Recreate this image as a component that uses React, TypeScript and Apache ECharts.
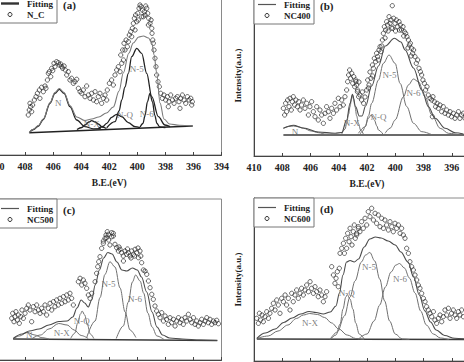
import { useEffect, useRef } from "react";
import * as echarts from "echarts";

type Pt = [number, number];
type PeakLabel = [string, number, number];

// ---------- N 1s spectra: binding energy (eV) vs intensity (a.u.) ----------

// (a) N_C
const ncPoints: Pt[] = [
  [407.77,40],[407.7,45],[407.6,48.3],[407.53,43.3],[407.46,50],[407.65,51.7],[407.34,55],[407.22,58.3],[407.12,61.7],[406.98,65],
  [406.94,56.7],[406.82,67.7],[406.7,63.3],[406.58,69],[406.51,66.7],[406.41,75],[406.34,81.7],[406.27,83.3],[406.17,78.3],[406.1,86.7],
  [406.03,84.3],[405.94,91.7],[405.87,88.3],[405.75,93.3],[405.63,92.3],[405.56,90],[405.46,91],[405.39,88.3],[405.32,86.7],[405.22,89],
  [405.13,85],[405.03,80],[404.92,83.3],[404.8,75],[404.68,76.7],[404.56,71.7],[404.44,73.3],[404.32,75.7],[404.2,66.7],[404.08,63.3],
  [403.96,61.7],[403.85,65],[403.73,58.3],[403.61,69],[403.49,60],[403.37,56.7],[403.25,61.7],[403.13,55],[403.01,63.3],[402.9,53.3],
  [402.78,58.3],[402.66,61.7],[402.54,51.7],[402.42,56.7],[402.3,60],[402.18,55],[402.14,65],[401.99,71.7],[401.83,75],[401.71,70],
  [401.59,80],[401.47,85],[401.35,88.3],[401.23,83.3],[401.11,91.7],[400.99,95],[401.18,100],[401.04,105],[400.95,111.7],[400.88,105],
  [400.8,115],[400.71,108.3],[400.64,113.3],[400.57,120],[400.47,123.3],[400.4,118.3],[400.35,126.7],[400.28,131.7],[400.21,136.7],[400.16,125],
  [400.12,140],[400.04,133.3],[399.97,141.7],[399.93,135],[399.88,146.7],[399.81,150],[399.74,148.3],[399.69,138.3],[399.64,145],[399.57,138.3],
  [399.5,143.3],[399.45,140],[399.4,149],[399.33,146.7],[399.26,141.7],[399.21,130],[399.19,136.7],[399.09,131.7],[399.02,135],[398.97,126.7],
  [398.95,121.7],[398.9,115],[398.86,111.7],[398.81,105],[398.74,96.7],[398.67,88.3],[398.62,80],[398.52,73.3],[398.43,68.3],[398.33,61.7],
  [398.22,56.7],[398.1,60],[397.98,55],[397.86,58.3],[397.79,48.3],[397.74,53.3],[397.62,60],[397.5,55],[397.38,51.7],[397.26,56.7],
  [397.15,58.3],[397.03,53.3],[396.96,46.7],[396.91,56.7],[396.79,60],[396.67,55],[396.55,51.7],[396.43,58.3],[396.31,55],[396.19,56.7],
  [396.12,50],[396.08,53.3],
];
const ncFit: Pt[] = [
  [407.7,22.3],[407.4,25.8],[407.05,29.5],[406.7,36],[406.22,52.5],[405.87,62.5],[405.56,66.5],[405.22,62.5],[404.8,49.5],[404.32,38],
  [403.73,34.5],[403.25,36],[402.75,38],[402.2,42],[401.71,48],[401.3,64],[401.0,82],[400.6,102],[400.29,112],[399.9,118],
  [399.57,119],[399.2,117],[398.97,112],[398.8,100],[398.62,82],[398.38,52],[398.1,36],[397.7,31],[397.0,29.8],[396.05,29],
];
const ncBackground: Pt[] = [[407.7,22.3],[396.05,29]];
const ncPeakN: Pt[] = [
  [407.7,22.3],[407.4,25.5],[407.05,29],[406.7,35.5],[406.22,51.7],[405.87,61.7],[405.56,65.7],[405.22,61.7],[404.8,48.3],[404.32,35],
  [403.73,28.3],[403.13,26.2],[402.6,26.3],
];
const ncPeakNX: Pt[] = [[404.3,25.5],[403.95,27.5],[403.73,30],[403.45,33],[403.25,34.3],[403.0,33],[402.78,31],[402.5,28],[402.2,26.5]];
const ncPeakNQ: Pt[] = [[402.78,26.7],[402.45,28.5],[402.18,31.7],[401.83,37.7],[401.47,40.7],[401.11,38.3],[400.64,32.3],[400.16,28.3],[399.81,27.3]];
const ncPeakN5: Pt[] = [
  [402.18,27.3],[401.59,33.3],[401.3,44],[401.11,55],[400.88,68],[400.64,81.7],[400.4,98.3],[400.04,106.7],[399.69,101.7],[399.33,81.7],
  [398.97,58.3],[398.5,38.3],[398.03,30],[397.67,28.3],
];
const ncPeakN6: Pt[] = [[399.8,28],[399.6,31.5],[399.45,39.5],[399.28,53],[399.1,61.5],[398.92,53],[398.75,39.5],[398.6,31.5],[398.4,28],[398.0,27.5]];
const ncLabels: PeakLabel[] = [["N",405.63,52],["N-X",403.25,31],["N-Q",400.87,40],["N-5",400.04,86],["N-6",399.33,41.5]];

// (b) NC400
const nc400Points: Pt[] = [
  [407.92,47.7],[407.83,41],[407.76,52.7],[407.69,44.3],[407.62,56],[407.52,49.3],[407.45,57.7],[407.36,46],[407.29,54.3],[407.22,59.3],
  [407.12,51],[407.03,56],[406.93,49.3],[406.84,54.3],[406.74,46],[406.63,51],[406.51,56],[406.39,47.7],[406.27,52.7],[406.15,41],
  [406.04,49.3],[405.92,54.3],[405.8,44.3],[405.68,39.3],[405.56,49.3],[405.45,36],[405.33,46],[405.21,41],[405.09,32.7],[404.97,42.7],
  [404.86,49.3],[404.74,44.3],[404.62,37.7],[404.5,47.7],[404.38,42.7],[404.27,52.7],[404.15,46],[404.03,57.7],[403.91,49.3],[403.79,56],
  [403.68,51],[403.56,59.3],[403.44,66],[403.37,74.3],[403.3,81],[403.23,86],[403.16,77.7],[403.08,82.7],[403.01,72.7],[402.94,79.3],
  [402.87,69.3],[402.78,74.3],[402.68,64.3],[402.59,59.3],[402.8,76],[402.73,71],[402.66,66],[402.57,74],[402.5,61],[402.38,56],
  [402.33,64],[402.24,52.7],[402.14,59],[402.02,66],[401.95,76],[401.9,68],[401.86,71],[401.79,84],[401.72,77.7],[401.62,91],
  [401.6,80],[401.55,87.7],[401.48,97.7],[401.39,94.3],[401.32,102.7],[401.25,99.3],[401.2,96],[401.15,106],[401.08,109.3],[401.01,104.3],
  [400.95,110],[400.91,116],[400.84,122.7],[400.77,129.3],[400.72,118],[400.68,126],[400.61,134.3],[400.54,131],[400.5,125],[400.44,139.3],
  [400.37,132.7],[400.3,136],[400.26,128],[400.21,150.3],[400.18,127.7],[400.11,137.7],[400.02,132.7],[399.98,125],[399.92,136],[399.83,129.3],
  [399.73,134.3],[399.7,126],[399.64,131],[399.55,126],[399.45,129.3],[399.4,120],[399.36,124.3],[399.26,122.7],[399.17,119.3],[399.1,108],
  [399.07,116],[399.0,111],[398.93,112.7],[398.88,100],[398.84,107.7],[398.77,102.7],[398.7,106],[398.6,99.3],[398.51,92.7],[398.41,96],
  [398.32,87.7],[398.22,84.3],[398.13,81],[398.04,76],[397.94,72.7],[397.85,66],[397.75,69.3],[397.66,61],[397.54,57.7],[397.42,56],
  [397.37,39.3],[397.33,59.3],[397.23,54.3],[397.14,49.3],[397.04,52.7],[396.95,47.7],[396.83,51],[396.71,44.3],[396.6,49.3],[396.48,42.7],
  [396.36,46],[396.24,41],[396.12,44.3],[396.01,39.3],[395.89,42.7],[395.77,37.7],[395.65,41],[395.53,44.3],[395.42,37.7],[395.3,41],
  [395.18,42.7],[395.06,37.7],
];
const nc400Fit: Pt[] = [
  [407.92,27.7],[407.2,30.7],[406.5,28],[405.44,24],[404.26,22.7],[403.79,23.5],[403.44,36],[403.2,52.7],[403.03,61.7],[402.8,49.3],
  [402.55,40],[402.35,40],[402.1,50],[401.67,70],[401.19,90],[400.7,110],[400.06,117.7],[399.6,114],[399.3,106],[398.71,88],
  [398.12,66],[397.65,49.3],[397.18,37.7],[396.47,27.7],[395.76,23.3],[395.17,22],
];
const nc400Background: Pt[] = [[407.92,21],[395.0,21]];
const nc400PeakN: Pt[] = [[407.92,27.7],[407.55,29.5],[407.2,30],[406.85,29.2],[406.5,27.7],[405.95,25],[405.44,23.3],[404.9,21.8],[404.3,21.2]];
const nc400PeakNX: Pt[] = [
  [403.79,22],[403.55,27],[403.44,32.7],[403.3,42],[403.2,49.3],[403.1,57],[403.03,61],[402.95,57],[402.85,49.3],[402.73,40],
  [402.61,32.7],[402.45,26],[402.26,22],
];
const nc400PeakNQ: Pt[] = [[402.49,22],[402.3,25],[402.13,29.3],[401.9,37.7],[401.71,41],[401.48,36],[401.3,30],[401.19,26],[400.84,21.3]];
const nc400PeakN5: Pt[] = [
  [402.61,22.7],[402.13,29.3],[401.9,40],[401.67,52.7],[401.19,76],[400.84,92.7],[400.44,101],[400.01,92.7],[399.66,72.7],[399.18,49.3],
  [398.71,32.7],[398.12,24.3],[397.41,21.3],
];
const nc400PeakN6: Pt[] = [
  [400.72,22.7],[400.35,28],[400.01,36],[399.42,59.3],[399.07,71],[398.71,77],[398.36,74.3],[397.89,59.3],[397.41,41],[396.82,27.7],
  [396.23,22.7],[395.52,21.3],
];
const nc400Labels: PeakLabel[] = [["N",407.1,24.3],["N-X",403.08,33.3],["N-Q",401.19,38.7],["N-5",400.4,81],["N-6",398.71,62.7]];

// (c) NC500
const nc500Points: Pt[] = [
  [408.95,41.7],[408.88,46.7],[408.79,38.3],[408.72,43.3],[408.65,48.3],[408.55,40],[408.48,45],[408.41,36.7],[408.31,43.3],[408.22,50],
  [408.12,41.7],[408.0,46.7],[407.88,51.7],[407.77,55],[407.65,50],[407.53,38.3],[407.41,53.3],[407.29,48.3],[407.17,55],[407.05,50],
  [406.93,46.7],[406.82,51.7],[406.7,48.3],[406.58,55],[406.46,45],[406.34,51.7],[406.22,56.7],[406.1,50],[405.98,58.3],[405.87,53.3],
  [405.75,60],[405.63,55],[405.51,61.7],[405.39,56.7],[405.27,63.3],[405.15,58.3],[405.03,65],[404.92,60],[404.8,66.7],[404.68,61.7],
  [404.56,55],[404.2,78.3],[404.08,81.7],[403.96,75],[403.85,80],[403.73,76.7],[403.61,71.7],[403.49,65],[403.37,61.7],[403.25,66.7],
  [403.01,78.3],[402.9,86.7],[402.82,93.3],[402.75,98.3],[402.66,103.3],[402.54,111.7],[402.42,116.7],[402.42,119],[402.3,121.7],[402.23,125],
  [402.18,122.3],[402.14,128.3],[402.06,125.7],[402.04,120],[401.95,115],[401.83,123.3],[401.83,127.3],[401.71,126.7],[401.71,124],[401.59,115.7],
  [401.47,112.3],[401.35,109],[401.3,113],[401.23,110.7],[401.11,107.3],[401.0,104],[400.99,99],[400.88,109],[400.76,105.7],[400.7,111],
  [400.64,107.3],[400.52,104],[400.45,102],[400.4,109],[400.28,105.7],[400.2,104],[400.16,110.7],[400.04,107.3],[399.95,112],[399.92,102.3],
  [399.81,109],[399.75,104],[399.69,97.3],[399.57,90],[399.45,89],[399.33,85.7],[399.21,79],[399.09,72.3],[398.97,65.7],[398.86,60.7],
  [398.74,54],[398.62,49],[398.5,45.7],[398.38,42.3],[398.26,47.3],[398.14,39],[398.02,44],[397.91,40.7],[397.79,35.7],[397.67,42.3],
  [397.55,37.3],[397.43,40.7],[397.31,34],[397.19,39],[397.07,42.3],[396.96,37.3],[396.84,40.7],[396.72,35.7],[396.6,42.3],[396.48,39],
  [396.36,45.7],[396.24,40.7],[396.12,37.3],[396.0,42.3],[395.89,35.7],[395.77,39],[395.65,34],[395.53,37.3],[395.41,40.7],[395.29,35.7],
  [395.17,39],[395.05,42.3],[394.94,37.3],[394.82,40.7],[394.7,35.7],[394.58,39],[394.46,37.3],[394.34,39.7],[394.22,36.3],
];
const nc500Fit: Pt[] = [
  [408.85,21.5],[408.2,26],[407.7,29],[407.0,31],[406.3,35],[405.6,38.5],[405.0,39],[404.6,43],[404.3,52],[404.0,60],
  [403.75,57],[403.5,53],[403.25,60],[403.0,75],[402.7,90],[402.4,102],[402.1,107.5],[401.8,106],[401.45,98],[401.1,90],
  [400.75,89],[400.35,92],[400.0,90],[399.7,83],[399.33,68],[398.95,48],[398.6,33],[398.2,25],[397.7,22],[396.8,21],
  [395.5,20],[394.3,19.5],
];
const nc500Background: Pt[] = [[408.85,21],[394.3,19.5]];
const nc500PeakN: Pt[] = [[408.85,21],[408.4,24],[407.85,27.5],[407.3,25],[406.8,22.3],[406.3,21]];
const nc500PeakNX: Pt[] = [[407.5,21.5],[406.9,25],[406.3,31],[405.6,36.5],[405.0,35],[404.5,30],[404.0,24.5],[403.5,21.5]];
const nc500PeakNQ: Pt[] = [[404.75,21.5],[404.45,27],[404.25,37],[404.05,46],[403.93,49],[403.75,45],[403.55,35],[403.35,26],[403.1,21.5]];
const nc500PeakN5: Pt[] = [
  [403.61,22.3],[403.01,39],[402.66,62.3],[402.3,85.7],[401.95,98.3],[401.59,93],[401.23,72],[400.87,48],[400.52,30],[400.1,22.5],
];
const nc500PeakN6: Pt[] = [
  [401.5,21.5],[401.0,34],[400.64,58],[400.35,78],[400.12,85],[399.8,79],[399.55,67],[399.25,47],[398.95,33],[398.6,24],[398.1,20.5],
];
const nc500Labels: PeakLabel[] = [["N",407.7,25],["N-X",405.39,27.3],["N-Q",403.96,39],["N-5",402.06,75.7],["N-6",400.16,60.7]];

// (d) NC600
const nc600Points: Pt[] = [
  [409.81,42.7],[409.69,37.7],[409.62,47.7],[409.53,41],[409.43,46],[409.34,39.3],[409.22,44.3],[409.1,49.3],[408.98,42.7],[408.87,47.7],
  [408.75,52.7],[408.63,57.7],[408.51,51],[408.39,61],[408.28,56],[408.16,47.7],[408.04,62.7],[407.92,59.3],[407.8,66],[407.69,56],
  [407.57,62.7],[407.45,51],[407.33,67.7],[407.22,59.3],[407.1,66],[406.98,71],[406.86,62.7],[406.74,67.7],[406.63,72.7],[406.51,66],
  [406.39,71],[406.27,76],[406.15,69.3],[406.03,79.3],[405.92,72.7],[405.8,67.7],[405.68,74.3],[405.56,69.3],[405.45,64.3],[405.33,71],
  [405.21,66],[405.09,59.3],[404.97,64.3],[404.86,69.3],[404.5,94.3],[404.38,86],[404.27,77.7],[404.19,82.7],[404.1,89.3],[404.03,74.3],
  [403.96,92.7],[403.91,107.7],[403.79,112.7],[403.67,117.7],[403.6,107.7],[403.51,122.7],[403.44,112.7],[403.37,127.7],[403.27,119.3],[403.2,132.7],
  [403.13,124.3],[403.06,116],[402.97,129.3],[402.9,136],[402.83,122.7],[402.73,127.7],[402.61,132.7],[402.73,126],[402.61,134.3],[402.5,129.3],
  [402.38,139.3],[402.26,132.7],[402.14,142.7],[402.02,136],[401.91,149.3],[401.79,144.3],[401.67,152.7],[401.55,141],[401.43,147.7],[401.32,137.7],
  [401.2,146],[401.08,134.3],[400.96,142.7],[400.84,132.7],[400.73,141],[400.61,136],[400.49,131],[400.37,139.3],[400.25,134.3],[400.14,129.3],
  [400.02,137.7],[399.9,132.7],[399.78,136],[399.66,127.7],[399.55,132.7],[399.43,126],[399.31,122.7],[399.19,112.7],[399.07,107.7],[398.96,99.3],
  [398.84,94.3],[398.72,91],[398.6,86],[398.48,81],[398.37,76],[398.25,72.7],[398.13,67.7],[398.01,62.7],[397.89,59.3],[397.78,54.3],
  [397.66,51],[397.54,47.7],[397.42,44.3],[397.3,49.3],[397.19,41],[397.07,37.7],[396.95,42.7],[396.83,46],[396.71,39.3],[396.6,44.3],
  [396.48,51],[396.36,46],[396.24,52.7],[396.12,42.7],[396.01,47.7],[395.89,51],[395.77,46],[395.65,42.7],[395.53,49.3],[395.42,46],
  [395.3,51],[395.18,44.3],
];
const nc600Fit: Pt[] = [
  [409.8,22.7],[409.2,28],[408.5,32],[407.9,38.5],[407.3,43],[406.7,47],[406.1,49.5],[405.6,48.5],[405.1,47],[404.6,49],
  [404.2,55],[403.95,68],[403.7,86],[403.45,99],[403.2,100.5],[402.9,99],[402.6,102],[402.2,114],[401.8,122],[401.4,124],
  [401.0,123],[400.5,120],[400.0,116],[399.6,109],[399.1,99],[398.7,84],[398.3,66],[397.9,50],[397.5,39],[397.1,31],
  [396.5,25.5],[395.8,22.7],[395.0,22],
];
const nc600Background: Pt[] = [[409.8,22],[395.0,21.5]];
const nc600PeakNX: Pt[] = [
  [409.8,22.5],[409.0,25],[408.3,30],[407.6,36],[407.0,42.5],[406.5,46],[406.05,47.5],[405.5,46.5],[405.0,43.5],[404.5,38],
  [404.0,32],[403.4,26],[402.8,22.5],[402.2,21.5],
];
const nc600PeakNQ: Pt[] = [[404.6,21.5],[404.2,26],[403.9,37],[403.7,52],[403.5,64],[403.4,66.5],[403.2,62],[403.0,52],[402.8,38],[402.55,27],[402.2,22]];
const nc600PeakN5: Pt[] = [
  [404.6,22],[404.1,29],[403.6,45],[403.2,64],[402.85,80],[402.4,99],[402.1,106],[401.8,108.5],[401.45,100],[401.1,82],
  [400.75,60],[400.4,40],[400.0,27],[399.5,22],[399.0,21.5],
];
const nc600PeakN6: Pt[] = [
  [402.6,22],[402.0,27],[401.5,40],[401.1,56],[400.7,74],[400.3,89],[399.95,96],[399.7,97.5],[399.35,93],[399.0,83],
  [398.6,68],[398.2,50],[397.8,36],[397.3,27],[396.8,23],[396.2,21.5],
];
const nc600Labels: PeakLabel[] = [["N-X",406.03,38.3],["N-Q",403.43,68.3],["N-5",401.85,94],["N-6",399.66,81.7]];

// ---------- layout & styling ----------

const SERIF = "'Liberation Serif', 'Times New Roman', serif";
const E_MIN = 394;
const E_MAX = 410;
const E_STEP = 2;

interface Panel {
  tag: string;
  sample: string;
  points: Pt[];
  fit: Pt[];
  background: Pt[];
  peaks: Pt[][];
  labels: PeakLabel[];
  box: { left: number; top: number; width: number; height: number };
  heavy: boolean;
  leftColumn: boolean;
  topRow: boolean;
}

const panels: Panel[] = [
  {
    tag: "(a)", sample: "N_C", points: ncPoints, fit: ncFit, background: ncBackground,
    peaks: [ncPeakN, ncPeakNX, ncPeakNQ, ncPeakN5, ncPeakN6], labels: ncLabels,
    box: { left: -3, top: -6, width: 224.5, height: 161 }, heavy: true, leftColumn: true, topRow: true,
  },
  {
    tag: "(b)", sample: "NC400", points: nc400Points, fit: nc400Fit, background: nc400Background,
    peaks: [nc400PeakN, nc400PeakNX, nc400PeakNQ, nc400PeakN5, nc400PeakN6], labels: nc400Labels,
    box: { left: 254, top: -5, width: 226, height: 161 }, heavy: false, leftColumn: false, topRow: true,
  },
  {
    tag: "(c)", sample: "NC500", points: nc500Points, fit: nc500Fit, background: nc500Background,
    peaks: [nc500PeakN, nc500PeakNX, nc500PeakNQ, nc500PeakN5, nc500PeakN6], labels: nc500Labels,
    box: { left: -3, top: 199, width: 224.5, height: 161 }, heavy: false, leftColumn: true, topRow: false,
  },
  {
    tag: "(d)", sample: "NC600", points: nc600Points, fit: nc600Fit, background: nc600Background,
    peaks: [nc600PeakNX, nc600PeakNQ, nc600PeakN5, nc600PeakN6], labels: nc600Labels,
    box: { left: 254, top: 198, width: 226, height: 163 }, heavy: false, leftColumn: false, topRow: false,
  },
];

function buildOption(): echarts.EChartsOption {
  const grid: any[] = [];
  const xAxis: any[] = [];
  const yAxis: any[] = [];
  const series: any[] = [];
  const graphic: any[] = [];

  panels.forEach((p, i) => {
    const { left, top, width, height } = p.box;
    grid.push({
      left, top, width, height,
      containLabel: false, outerBoundsMode: "none",
      show: true, borderColor: "#8a8a8a", borderWidth: 1, backgroundColor: "transparent",
    });
    // the bottom row's energy scale and the left column's intensity title fall outside the page
    xAxis.push({
      type: "value", gridIndex: i, min: E_MIN, max: E_MAX, interval: E_STEP, inverse: true,
      axisLine: { show: true, onZero: false, lineStyle: { color: "#444", width: 1 } },
      axisTick: { show: true, inside: true, length: 3, lineStyle: { color: "#444" } },
      axisLabel: {
        show: p.topRow, showMinLabel: p.leftColumn,
        fontFamily: SERIF, fontWeight: "bold", fontSize: 10, color: "#222", margin: 6,
      },
      splitLine: { show: false },
      name: p.topRow ? "B.E.(eV)" : "", nameLocation: "middle", nameGap: 23,
      nameTextStyle: { fontFamily: SERIF, fontWeight: "bold", fontSize: 9.5, color: "#222" },
    });
    yAxis.push({
      type: "value", gridIndex: i, min: 0, max: height,
      axisLine: { show: true, onZero: false, lineStyle: { color: "#444", width: 1 } },
      axisTick: { show: false }, axisLabel: { show: false }, splitLine: { show: false },
      name: p.leftColumn ? "" : "Intensity(a.u.)", nameLocation: "middle", nameGap: 12,
      nameTextStyle: { fontFamily: SERIF, fontWeight: "bold", fontSize: 9, color: "#222" },
    });

    const peakColor = p.heavy ? "#222" : "#707070";
    const peakWidth = p.heavy ? 1.3 : 1;
    const fitColor = p.heavy ? "#7a7a7a" : "#4a4a4a";
    const common = { xAxisIndex: i, yAxisIndex: i, silent: true };

    series.push({
      ...common, type: "scatter", name: p.sample, data: p.points,
      symbol: "circle", symbolSize: 4.3,
      itemStyle: { color: "rgba(255,255,255,0)", borderColor: "#2b2b2b", borderWidth: 0.9 },
      z: 2,
    });
    series.push({
      ...common, type: "line", name: `${p.sample} background`, data: p.background,
      showSymbol: false, symbol: "none",
      lineStyle: { color: p.heavy ? "#222" : "#3a3a3a", width: p.heavy ? 1.6 : 1.4 }, z: 3,
    });
    p.peaks.forEach((pk, k) => {
      series.push({
        ...common, type: "line", name: `${p.sample} peak ${k}`, data: pk,
        showSymbol: false, symbol: "none", smooth: 0.35, smoothMonotone: "x",
        lineStyle: { color: peakColor, width: peakWidth }, z: 3,
      });
    });
    series.push({
      ...common, type: "line", name: "Fitting", data: p.fit,
      showSymbol: false, symbol: "none", smooth: 0.35, smoothMonotone: "x",
      lineStyle: { color: fitColor, width: 1.1 }, z: 4,
    });
    // peak names, centred on their (energy, intensity) anchor
    series.push({
      ...common, type: "scatter", name: `${p.sample} peaks`,
      data: p.labels.map(([n, e, v]) => ({ name: n, value: [e, v] })),
      symbolSize: 1,
      itemStyle: { color: "rgba(0,0,0,0)", borderWidth: 0 },
      label: {
        show: true, position: "top", distance: -5, formatter: "{b}",
        fontFamily: SERIF, fontSize: 9, color: "#5a5a5a",
        textBorderWidth: 0,
      },
      labelLayout: { hideOverlap: false },
      z: 5,
    });

    // legend box and panel tag
    const L = left;
    const T = top;
    graphic.push(
      {
        type: "rect", z: 50,
        shape: { x: L, y: T, width: 60, height: 29 },
        style: { fill: "#fff", stroke: "#777", lineWidth: 1 },
      },
      {
        type: "line", z: 51,
        shape: { x1: L + 4, y1: T + 9.5, x2: L + 22, y2: T + 9.5 },
        style: { stroke: p.heavy ? "#333" : "#555", lineWidth: p.heavy ? 2.4 : 1.2 },
      },
      {
        type: "circle", z: 51,
        shape: { cx: L + 13, cy: T + 20.5, r: 2 },
        style: { fill: "none", stroke: "#2b2b2b", lineWidth: 1 },
      },
      {
        type: "text", z: 51, x: L + 30, y: T + 9.5,
        style: { text: "Fitting", font: `bold 9px ${SERIF}`, fill: "#222", verticalAlign: "middle", align: "left" },
      },
      {
        type: "text", z: 51, x: L + 30, y: T + 20.5,
        style: { text: p.sample, font: `bold 9px ${SERIF}`, fill: "#222", verticalAlign: "middle", align: "left" },
      },
      {
        type: "text", z: 51, x: L + 66, y: T + 11,
        style: { text: p.tag, font: `bold 11px ${SERIF}`, fill: "#222", verticalAlign: "middle", align: "left" },
      },
    );
  });

  return {
    animation: false,
    backgroundColor: "#fff",
    grid, xAxis, yAxis, series, graphic,
  };
}

export default function App() {
  const ref = useRef<HTMLDivElement>(null);
  useEffect(() => {
    if (!ref.current) return;
    const chart = echarts.init(ref.current, undefined, { renderer: "svg" });
    chart.setOption(buildOption());
    return () => chart.dispose();
  }, []);
  return (
    <div
      ref={ref}
      style={{ position: "fixed", left: 0, top: 0, width: 464, height: 362, background: "#fff" }}
    />
  );
}
